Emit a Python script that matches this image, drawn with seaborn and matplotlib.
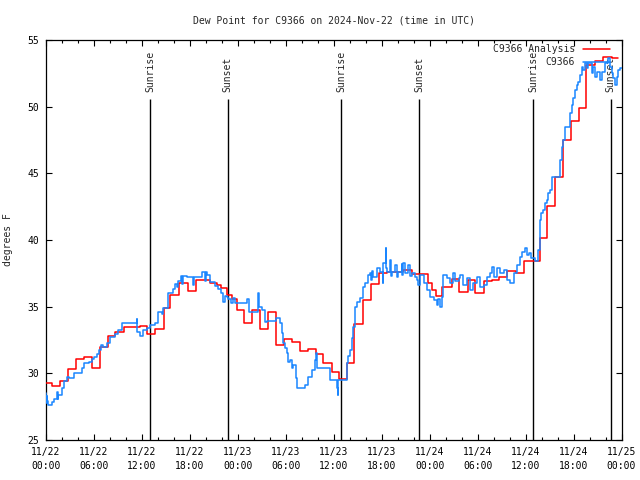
import numpy as np
import pandas as pd
import matplotlib
matplotlib.use('Agg')
import matplotlib.pyplot as plt
import seaborn as sns

# time axis: hours since 2024-11-22 00:00 UTC
analysis_hours = [0.0, 0.71, 1.75, 2.72, 3.72, 4.76, 5.72, 6.75, 7.8, 8.64, 9.76, 10.93,
                  11.76, 12.6, 13.64, 14.77, 15.52, 16.68, 17.81, 18.74, 20.53, 21.36, 21.9,
                  22.62, 23.24, 23.87, 24.78, 25.74, 26.8, 27.75, 28.75, 29.82, 30.82, 31.79,
                  32.83, 33.79, 34.71, 35.76, 36.71, 37.63, 38.59, 39.71, 40.68, 41.68, 42.64,
                  44.72, 45.77, 47.77, 48.27, 48.81, 49.6, 50.78, 51.73, 52.78, 53.73, 54.82,
                  55.78, 56.73, 57.73, 58.82, 59.82, 61.79, 62.62, 63.67, 64.62, 65.62, 66.67,
                  67.62, 68.67, 69.71, 70.75, 71.59]
analysis_dewpt = [29.25, 29.05, 29.45, 30.3, 31.1, 31.25, 30.4, 31.95, 32.8, 33.1, 33.5, 33.45,
                  33.55, 32.95, 33.3, 34.87, 35.9, 36.75, 36.17, 37.0, 36.8, 36.6, 36.37,
                  35.87, 35.57, 34.75, 33.75, 34.75, 33.3, 34.57, 32.1, 32.6, 32.37, 31.67,
                  31.8, 31.45, 30.8, 30.1, 29.55, 30.8, 33.67, 35.47, 36.7, 37.5, 37.57,
                  37.75, 37.42, 36.75, 36.25, 35.8, 36.45, 37.05, 36.1, 37.0, 36.05, 36.92,
                  37.0, 37.25, 37.67, 37.5, 38.4, 40.12, 42.57, 44.75, 47.5, 48.9, 49.9,
                  53.1, 53.4, 53.75, 53.65, 53.65]

obs_hours = [0.0, 0.04, 0.08, 0.13, 0.2, 0.71, 1.0, 1.42, 1.48, 1.54, 2.04, 2.25, 2.59, 2.88,
             3.5, 4.46, 4.8, 5.38, 5.72, 6.05, 6.34, 6.63, 6.84, 7.18, 7.59, 8.01, 8.64, 9.05,
             9.47, 11.35, 11.42, 11.76, 12.18, 12.6, 13.02, 13.64, 13.98, 14.48, 14.69, 15.23,
             15.94, 16.15, 16.35, 16.56, 16.9, 17.06, 17.19, 17.6, 18.44, 18.55, 19.48, 19.9,
             20.0, 20.11, 20.53, 21.15, 21.57, 21.9, 22.19, 22.4, 22.61, 22.82, 23.15, 23.45,
             23.65, 24.28, 25.11, 25.45, 26.57, 26.65, 26.99, 27.41, 27.62, 28.79, 29.29,
             29.5, 29.7, 29.91, 30.12, 30.33, 30.54, 30.75, 30.95, 31.29, 31.46, 32.42, 32.83,
             33.25, 33.67, 33.79, 33.96, 35.54, 36.38, 36.5, 36.59, 37.63, 37.84, 38.05,
             38.26, 38.46, 38.67, 38.88, 39.3, 39.72, 39.92, 40.34, 40.55, 40.7, 40.8, 40.97,
             41.39, 41.8, 42.1, 42.16, 42.22, 42.51, 42.57, 42.64, 43.05, 43.15, 43.26, 43.68,
             43.9, 44.1, 44.5, 44.6, 44.72, 44.93, 45.35, 45.5, 45.77, 46.18, 46.39, 46.6,
             46.81, 47.23, 47.64, 48.06, 48.48, 48.9, 49.1, 49.31, 49.52, 49.73, 50.15, 50.56,
             50.98, 51.2, 51.61, 51.81, 52.23, 52.65, 53.07, 53.48, 53.9, 54.32, 54.74, 55.15,
             55.57, 55.78, 55.99, 56.4, 56.82, 57.24, 57.66, 58.07, 58.49, 58.91, 59.32, 59.53,
             59.95, 60.15, 60.37, 60.74, 61.16, 61.58, 61.79, 61.99, 62.2, 62.41, 62.62, 62.83,
             63.04, 63.25, 64.29, 64.5, 64.71, 64.91, 65.54, 65.75, 65.96, 66.17, 66.38, 66.58,
             66.79, 67.0, 67.21, 67.42, 67.63, 67.83, 68.25, 68.46, 68.67, 68.88, 69.3, 69.5,
             69.92, 70.34, 70.55, 70.76, 70.96, 71.17, 71.38, 71.59, 71.8, 72.0]
obs_dewpt = [28.5, 27.8, 28.3, 27.9, 27.6, 27.87, 28.1, 28.6, 28.1, 28.37, 28.87, 29.42, 29.75, 29.67,
             30.0, 30.42, 30.75, 30.87, 31.05, 31.25, 31.45, 31.75, 32.12, 32.0, 32.3, 32.75, 32.92, 33.25,
             33.75, 34.1, 33.1, 32.82, 33.25, 33.42, 33.62, 33.8, 34.62, 34.42, 34.87, 36.0,
             36.3, 36.7, 36.5, 36.95, 37.32, 36.7, 37.32, 37.25, 36.6, 37.25, 37.62, 36.9,
             37.62, 37.35, 36.87, 36.55, 36.3, 36.0, 35.37, 35.8, 35.7, 35.55, 35.25, 35.62,
             35.25, 35.25, 35.55, 34.57, 36.0, 35.0, 34.75, 33.87, 33.95, 34.12, 33.75,
             33.0, 32.25, 31.87, 31.5, 30.87, 31.0, 30.37, 30.62, 29.62, 28.87, 29.12, 29.75,
             30.25, 31.0, 31.5, 30.37, 29.5, 28.87, 28.37, 29.5, 30.75, 31.3, 31.75,
             32.62, 33.5, 35.0, 35.37, 35.62, 36.5, 36.8, 37.37, 37.5, 37.0, 37.7, 37.25,
             37.87, 37.62, 36.75, 37.6, 38.25, 39.37, 37.9, 37.62, 38.5, 37.3, 37.62, 38.12,
             37.2, 37.62, 38.2, 37.4, 38.25, 37.5, 38.12, 37.3, 37.5, 37.25, 37.0, 36.6,
             37.37, 36.75, 36.25, 35.75, 35.5, 35.12, 35.6, 34.95, 35.75, 37.37, 37.12, 36.75,
             37.55, 36.9, 37.12, 37.37, 36.62, 37.12, 36.25, 36.75, 37.25, 36.5, 36.62, 37.25,
             37.5, 38.0, 37.25, 37.87, 37.5, 37.75, 37.0, 36.75, 37.5, 38.12, 38.75, 39.12,
             39.37, 38.9, 39.0, 38.62, 38.42, 39.25, 41.5, 42.0, 42.25, 42.75, 43.0, 43.5,
             43.75, 44.75, 46.0, 47.0, 47.5, 48.5, 49.5, 50.12, 50.62, 51.25, 51.62, 51.87,
             52.37, 53.0, 52.75, 53.25, 52.87, 53.25, 52.5, 53.0, 52.25, 52.62, 52.0, 52.62,
             53.25, 53.62, 53.0, 52.5, 52.12, 51.62, 52.25, 52.75, 52.87, 52.87]

event_hours = [13.02, 22.74, 36.96, 46.72, 60.99, 70.63]
event_names = ['Sunrise', 'Sunset', 'Sunrise', 'Sunset', 'Sunrise', 'Sunset']

tick_hours = list(range(0, 73, 6))
tick_labels = ['11/22\n00:00', '11/22\n06:00', '11/22\n12:00', '11/22\n18:00',
               '11/23\n00:00', '11/23\n06:00', '11/23\n12:00', '11/23\n18:00',
               '11/24\n00:00', '11/24\n06:00', '11/24\n12:00', '11/24\n18:00',
               '11/25\n00:00']

sns.set_style('ticks')
plt.rcParams['font.family'] = ['DejaVu Sans Mono']
plt.rcParams['axes.edgecolor'] = 'black'
plt.rcParams['xtick.color'] = 'black'
plt.rcParams['ytick.color'] = 'black'

analysis = pd.DataFrame({'hours': analysis_hours, 'dewpt': analysis_dewpt})
obs = pd.DataFrame({'hours': obs_hours, 'dewpt': obs_dewpt})

fig = plt.figure(figsize=(6.4, 4.8), dpi=100)
ax = fig.add_axes([46 / 640, 40 / 480, 575.5 / 640, 400 / 480])

sns.lineplot(data=analysis, x='hours', y='dewpt', color='#ff0000', drawstyle='steps-post',
             lw=1.1, label='C9366 Analysis', ax=ax, zorder=3)
sns.lineplot(data=obs, x='hours', y='dewpt', color='#1a86ff', drawstyle='steps-post',
             lw=1.1, label='C9366', ax=ax, zorder=4)

# sunrise / sunset markers
ax.vlines(event_hours, 25, 50.55, color='black', lw=1.0, zorder=2)
for h, name in zip(event_hours, event_names):
    ax.text(h, 51.1, name, rotation=90, ha='center', va='bottom', fontsize=7)

ax.set_xlim(0, 72)
ax.set_ylim(25, 55)
ax.set_xticks(tick_hours)
ax.set_xticklabels(tick_labels)
ax.set_xticks(range(0, 73, 2), minor=True)
ax.set_yticks(range(25, 56, 5))
ax.tick_params(which='both', direction='in', top=True, right=True, labelsize=7, width=0.8)
ax.tick_params(which='major', length=4.5, pad=5)
ax.tick_params(which='minor', length=2.5)
for lbl in ax.get_xticklabels():
    lbl.set_linespacing(1.45)
for s in ax.spines.values():
    s.set_linewidth(0.9)

ax.set_xlabel('')
ax.set_ylabel('degrees F', fontsize=7, labelpad=10)
ax.set_title('Dew Point for C9366 on 2024-Nov-22 (time in UTC)', fontsize=7, pad=12)

ax.legend(loc='upper right', bbox_to_anchor=((610 - 46) / 575.5, 0.99), frameon=False,
          markerfirst=False, fontsize=7, handlelength=2.8, handletextpad=0.8,
          borderpad=0, borderaxespad=0, labelspacing=0.3)

plt.savefig('out.png', dpi=100)
